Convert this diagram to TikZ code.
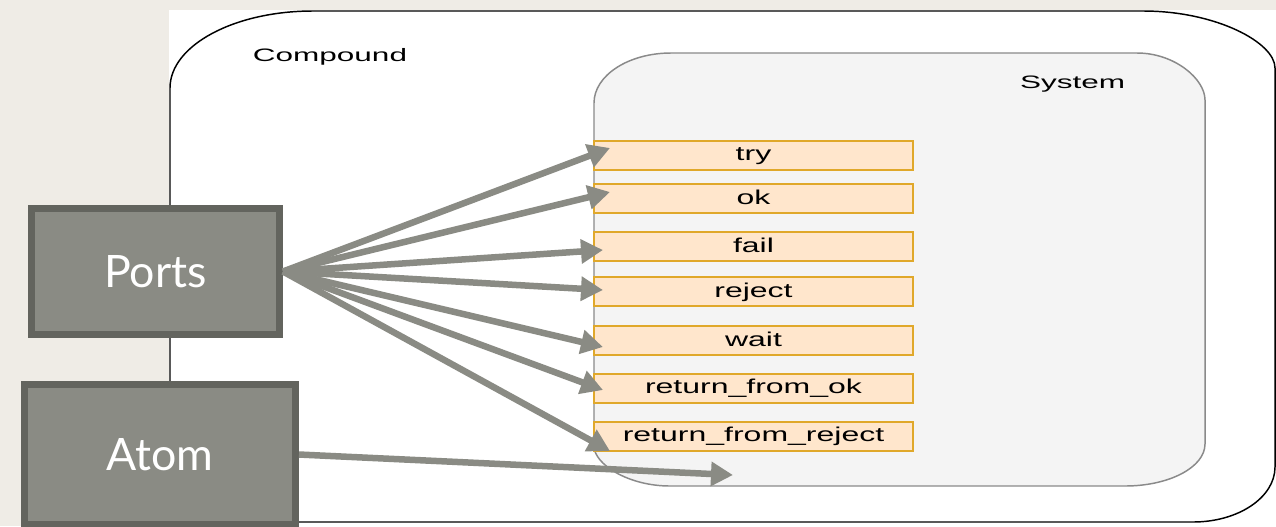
\documentclass[tikz,border=0pt]{standalone}
\usepackage{fontspec}
\usepackage{graphicx}
\setmainfont{Liberation Sans}
\newfontfamily\boxfont{Lato}
\usetikzlibrary{arrows.meta}
\definecolor{bgbeige}{HTML}{EFECE6}
\definecolor{sysfill}{HTML}{F4F4F4}
\definecolor{sysline}{HTML}{8A8A8A}
\definecolor{portfill}{HTML}{FFE6CC}
\definecolor{portline}{HTML}{E0A82A}
\definecolor{boxfill}{HTML}{8A8B84}
\definecolor{boxline}{HTML}{63645E}
\definecolor{arrowgray}{HTML}{8A8B84}
\newcommand\sxa[1]{\scalebox{1.6}[1]{#1}}
\newcommand\sxb[1]{\scalebox{1.75}[1]{#1}}
\begin{document}
\begin{tikzpicture}[x=0.75pt,y=-0.75pt,
  portbox/.style={draw=portline, fill=portfill, line width=1.5pt,
    minimum width=239.25pt, minimum height=21.75pt, inner sep=0pt,
    text height=11.25pt, text depth=3pt,
    font=\fontsize{15pt}{18pt}\selectfont},
  bigbox/.style={draw=boxline, fill=boxfill, line width=5.25pt, text=white,
    inner sep=0pt, font=\boxfont\fontsize{33.5pt}{38pt}\selectfont},
  title/.style={anchor=base, font=\fontsize{13.5pt}{16pt}\selectfont, inner sep=0pt},
  arr/.style={draw=arrowgray, line width=4.875pt,
    -{Triangle[length=16.5pt, width=17.5pt]}}]
\useasboundingbox (0,0) rectangle (1276,526);
\fill[bgbeige] (0,0) rectangle (1276,526);
\fill[white] (169,10) rectangle (1276,526);
% Compound
\draw[black, line width=1.1pt]
  (170,88) .. controls (170,45.5) and (234,11) .. (313,11)
  -- (1143,11) .. controls (1215.9,11) and (1275,42.5) .. (1275,68)
  -- (1275,467) .. controls (1275,497.4) and (1238.3,522) .. (1193,522)
  -- (280,522) .. controls (219.2,522) and (170,488.9) .. (170,462) -- cycle;
\node[title] (compound) at (330,61) {\sxb{Compound}};
% System
\draw[sysline, fill=sysfill, line width=1.1pt]
  (594,103) .. controls (594,75.4) and (628.5,53) .. (671,53)
  -- (1137,53) .. controls (1174.6,53) and (1205,79) .. (1205,100)
  -- (1205,444) .. controls (1205,467.2) and (1169.2,486) .. (1125,486)
  -- (670,486) .. controls (628,486) and (594,464) .. (594,446) -- cycle;
\node[title] (system) at (1072.5,88) {\sxb{System}};
% ports
\node[portbox] (try) at (753.5,155) {\sxa{try}};
\node[portbox] (ok) at (753.5,198.5) {\sxa{ok}};
\node[portbox] (fail) at (753.5,246.5) {\sxa{fail}};
\node[portbox] (reject) at (753.5,291.5) {\sxa{reject}};
\node[portbox] (wait) at (753.5,340.5) {\sxa{wait}};
\node[portbox] (rfok) at (753.5,388) {\sxa{return\_from\_ok}};
\node[portbox] (rfrej) at (753.5,436) {\sxa{return\_from\_reject}};
% big boxes
\node[bigbox, minimum width=186pt, minimum height=94.5pt] (ports) at (155.5,271.5) {Ports};
\node[bigbox, minimum width=203.25pt, minimum height=105pt] (atom) at (160,454.5) {Atom};
% arrow tips
\coordinate (tTry) at (610,148);
\coordinate (tOk) at (610,192);
\coordinate (tFail) at (603,250);
\coordinate (tReject) at (603,290);
\coordinate (tWait) at (603,347);
\coordinate (tRfok) at (603,390);
\coordinate (tRfrej) at (610,451);
\coordinate (tAtom) at (733,475);
\draw[arr] (ports.east) -- (tTry);
\draw[arr] (ports.east) -- (tOk);
\draw[arr] (ports.east) -- (tFail);
\draw[arr] (ports.east) -- (tReject);
\draw[arr] (ports.east) -- (tWait);
\draw[arr] (ports.east) -- (tRfok);
\draw[arr] (ports.east) -- (tRfrej);
\draw[arr] (atom.east) -- (tAtom);
\end{tikzpicture}
\end{document}
